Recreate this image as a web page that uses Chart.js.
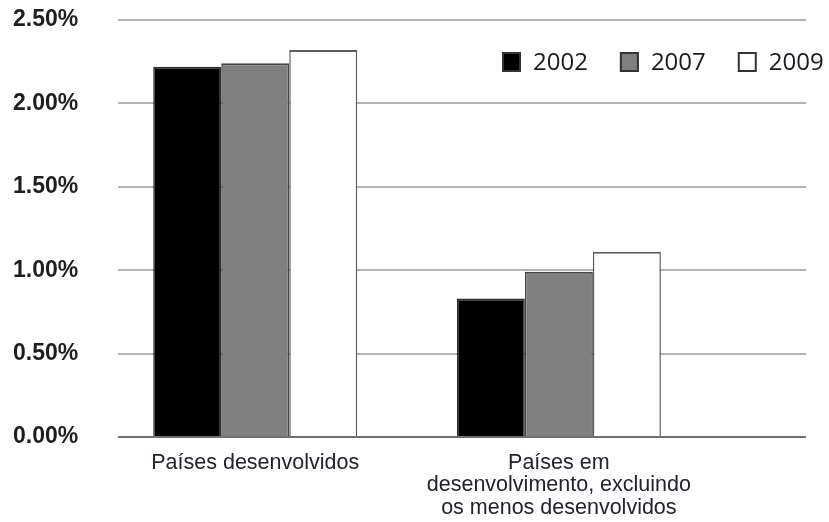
<!DOCTYPE html>
<html>
<head>
<meta charset="utf-8">
<script src="https://cdn.jsdelivr.net/npm/chart.js@4/dist/chart.umd.min.js"></script>
<style>
  html, body { margin: 0; padding: 0; background: #ffffff; }
  #wrap { width: 829px; height: 522px; position: relative; }
</style>
</head>
<body>
<div id="wrap"><canvas id="c" width="829" height="522"></canvas></div>
<script>
// Country groups (multi-line axis labels) and the three survey years
const categories = [
  ['Países desenvolvidos'],
  ['Países em', 'desenvolvimento, excluindo', 'os menos desenvolvidos']
];
const years = ['2002', '2007', '2009'];

// Share (%) per country group, one array per year
const values2002 = [2.22, 0.83];
const values2007 = [2.24, 0.99];
const values2009 = [2.32, 1.11];

// Value-axis tick marks (%)
const yTicks = [0, 0.5, 1.0, 1.5, 2.0, 2.5];

const seriesValues = [values2002, values2007, values2009];
const fills = ['#000000', '#808080', '#ffffff'];
const edges = ['#2e2e2e', '#454545', '#5c5c5c'];

const datasets = years.map((year, k) => ({
  label: year,
  data: categories.map((_, i) => ({ x: i, y: seriesValues[k][i] })),
  backgroundColor: fills[k],
  borderColor: edges[k],
  borderWidth: { top: 2, left: 1.5, right: 1.5, bottom: 0 },
  borderSkipped: 'bottom',
  categoryPercentage: 0.672,
  barPercentage: 1.0
}));

// Legend row drawn inside the plot, upper right
const boxLegend = {
  id: 'boxLegend',
  afterDraw(chart) {
    const ctx = chart.ctx;
    ctx.save();
    ctx.font = '24px "Open Sans"';
    ctx.textBaseline = 'middle';
    ctx.textAlign = 'left';
    const top = 52, bw = 19, bh = 20, gap = 12, spacing = 32;
    let x = 502;
    chart.data.datasets.forEach(ds => {
      ctx.fillStyle = ds.backgroundColor;
      ctx.fillRect(x, top, bw, bh);
      ctx.lineWidth = 2;
      ctx.strokeStyle = '#333333';
      ctx.strokeRect(x + 1, top + 1, bw - 2, bh - 2);
      ctx.fillStyle = '#1a1a22';
      ctx.fillText(ds.label, x + bw + gap, top + bh / 2 + 1);
      x += bw + gap + ctx.measureText(ds.label).width + spacing;
    });
    ctx.restore();
  }
};

const sans = '"Liberation Sans", Arial, sans-serif';

new Chart(document.getElementById('c'), {
  type: 'bar',
  data: { datasets },
  plugins: [boxLegend],
  options: {
    responsive: false,
    devicePixelRatio: 1,
    animation: false,
    layout: { padding: { left: 13, right: 23, top: 20, bottom: 0 } },
    plugins: {
      legend: { display: false },
      tooltip: { enabled: false }
    },
    scales: {
      x: {
        type: 'linear',
        offset: false,
        min: -0.452,
        max: 1.814,
        afterBuildTicks: s => { s.ticks = categories.map((_, i) => ({ value: i })); },
        afterFit: s => { s.height = 85; },
        ticks: {
          autoSkip: false,
          maxRotation: 0,
          minRotation: 0,
          padding: 15,
          color: '#222230',
          font: { family: sans, size: 21.5, lineHeight: 1.04 },
          callback: v => categories[v]
        },
        grid: { display: false, drawTicks: false, offset: false },
        border: { display: false }
      },
      y: {
        min: 0,
        max: 2.5,
        afterBuildTicks: s => { s.ticks = yTicks.map(v => ({ value: v })); },
        afterFit: s => { s.width = 105; },
        ticks: {
          padding: 4,
          crossAlign: 'far',
          color: '#1e1e1e',
          font: { family: sans, size: 23, weight: 'bold' },
          callback: v => v.toFixed(2) + '%'
        },
        grid: {
          drawTicks: false,
          lineWidth: 2,
          color: c => (c.tick && c.tick.value === 0) ? '#707070' : '#b2b2b2'
        },
        border: { display: false }
      }
    }
  }
});
</script>
</body>
</html>
